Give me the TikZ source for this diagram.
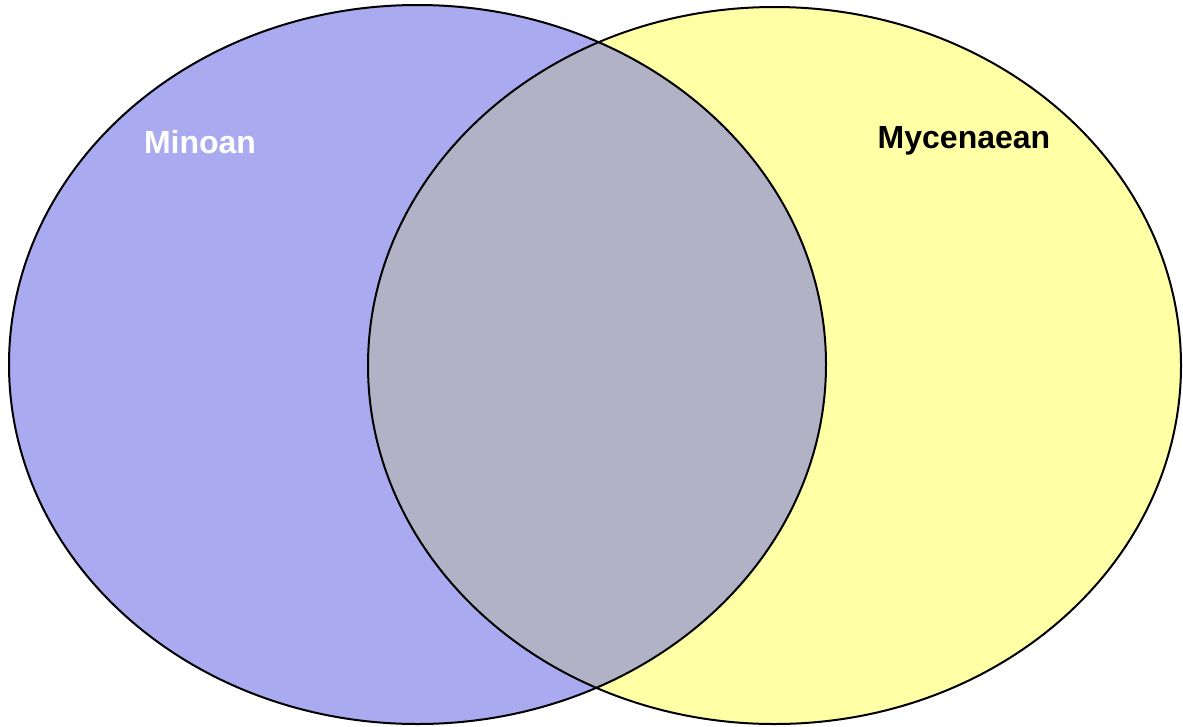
\documentclass[tikz,border=0pt]{standalone}
\usepackage{fontspec}
\setmainfont{Liberation Sans}
\definecolor{minblue}{RGB}{170,170,240}
\definecolor{mycyellow}{RGB}{255,255,165}
\definecolor{overlapc}{RGB}{178,178,198}
\tikzset{
  setline/.style={draw=black, line width=2pt},
  lbl/.style={font=\fontsize{32}{38}\selectfont\bfseries, inner sep=0pt}
}
\begin{document}
\begin{tikzpicture}[x=1pt,y=-1pt]
\useasboundingbox (0,0) rectangle (1183,726);
\coordinate (cl) at (417.5,364.5);
\coordinate (cr) at (774.5,365.5);
\fill[mycyellow] (cr) ellipse [x radius=406.5, y radius=358.5];
\fill[minblue] (cl) ellipse [x radius=408.5, y radius=359.5];
\begin{scope}
  \clip (cr) ellipse [x radius=406.5, y radius=358.5];
  \fill[overlapc] (cl) ellipse [x radius=408.5, y radius=359.5];
\end{scope}
\draw[setline] (cr) ellipse [x radius=406.5, y radius=358.5];
\draw[setline] (cl) ellipse [x radius=408.5, y radius=359.5];
\node[lbl, text=white] (minoan) at (200,142) {Minoan};
\node[lbl, text=black] (myc) at (964,141) {Mycenaean};
\end{tikzpicture}
\end{document}
